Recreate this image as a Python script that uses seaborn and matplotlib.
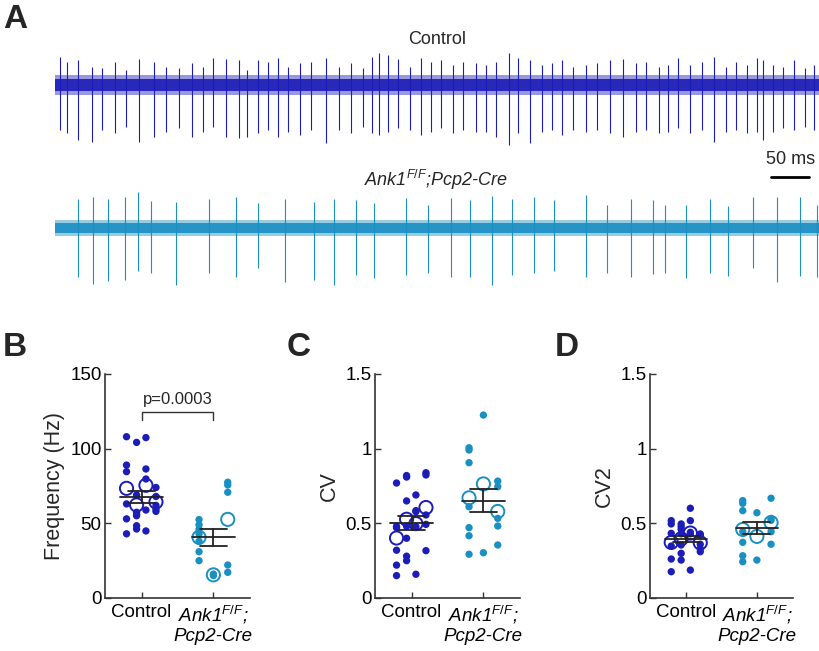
import matplotlib
matplotlib.use('Agg')
import numpy as np
import pandas as pd
import matplotlib.pyplot as plt
import seaborn as sns

sns.set_theme(style='white')
plt.rcParams['font.family'] = ['Liberation Sans', 'DejaVu Sans']
plt.rcParams['mathtext.fontset'] = 'custom'
plt.rcParams['mathtext.it'] = 'Liberation Sans:italic'
plt.rcParams['mathtext.rm'] = 'Liberation Sans'

CTRL_COLOR = '#1c1cb8'
KO_COLOR = '#1a8fc2'
SPINE = '#333333'

# Panel A: spike times (ms) and peak sizes below / above baseline
ctrl_spike_ms = [6, 16, 30, 48, 62, 78, 93, 110, 129, 145,
                 162, 179, 193, 206, 224, 241, 251, 265, 279, 292,
                 305, 320, 334, 354, 371, 387, 402, 415, 424, 435,
                 449, 464, 478, 492, 505, 520, 533, 550, 564, 577,
                 593, 605, 621, 636, 650, 663, 677, 694, 708, 725,
                 742, 760, 773, 789, 801, 815, 830, 846, 861, 877,
                 890, 904, 918, 925, 938, 952, 966, 980, 992]
ctrl_down = [45, 48, 55, 57, 45, 48, 42, 57, 52, 47,
             43, 52, 47, 42, 52, 53, 52, 48, 45, 52,
             47, 50, 45, 58, 45, 48, 42, 48, 50, 47,
             43, 45, 50, 47, 43, 48, 45, 47, 47, 52,
             60, 48, 58, 47, 45, 50, 45, 47, 45, 48,
             52, 47, 45, 48, 47, 43, 48, 45, 57, 47,
             45, 48, 47, 55, 47, 43, 45, 42, 45]
ctrl_up = [28, 23, 25, 18, 17, 23, 15, 26, 23, 18,
           17, 22, 18, 27, 26, 25, 15, 25, 23, 27,
           18, 22, 23, 27, 18, 22, 17, 28, 32, 30,
           26, 18, 27, 23, 25, 20, 23, 22, 20, 23,
           32, 27, 25, 20, 22, 25, 18, 20, 22, 25,
           26, 22, 23, 18, 20, 27, 20, 23, 28, 18,
           23, 20, 27, 25, 20, 18, 25, 17, 20]

ko_spike_ms = [30, 50, 69, 91, 108, 125, 158, 201, 237, 265,
               301, 339, 365, 394, 417, 459, 488, 518, 543, 571,
               598, 626, 652, 694, 722, 753, 782, 797, 825, 856,
               880, 912, 944, 974, 996]
ko_down = [49, 56, 53, 52, 43, 45, 57, 45, 49, 40,
           54, 52, 57, 47, 50, 47, 45, 49, 49, 57,
           47, 45, 43, 49, 45, 49, 46, 45, 50, 45,
           48, 40, 54, 48, 49]
ko_up = [29, 31, 29, 31, 36, 27, 26, 29, 31, 25,
         29, 26, 29, 28, 25, 30, 23, 30, 28, 32,
         29, 31, 28, 33, 23, 29, 28, 23, 23, 29,
         22, 31, 31, 31, 23]

# Panels B-D: cell values, one list per animal
freq_ctrl = [[108, 89, 84.6, 63, 53, 43],
             [104.2, 69, 57.4, 56, 55.1, 48.4, 46.2],
             [107.4, 86.4, 79.7, 58.9, 44.9],
             [74, 68, 62, 59.6, 58]]
freq_ko = [[52.5, 49, 46, 43, 38, 31, 25],
           [16, 15],
           [77.5, 75.7, 70.8, 22.1, 17.2]]

cv_ctrl = [[0.77, 0.48, 0.47, 0.32, 0.22, 0.15],
           [0.82, 0.81, 0.65, 0.48, 0.40, 0.28, 0.25],
           [0.69, 0.585, 0.578, 0.478, 0.159],
           [0.839, 0.824, 0.556, 0.493, 0.317]]
cv_ko = [[1.006, 0.991, 0.906, 0.611, 0.471, 0.417, 0.293],
         [1.225, 0.303],
         [0.783, 0.745, 0.533, 0.482, 0.355]]

cv2_ctrl = [[0.518, 0.496, 0.433, 0.348, 0.261, 0.176],
            [0.496, 0.478, 0.46, 0.43, 0.355, 0.299, 0.254],
            [0.601, 0.518, 0.44, 0.43, 0.187],
            [0.429, 0.42, 0.36, 0.33, 0.31]]
cv2_ko = [[0.652, 0.634, 0.585, 0.444, 0.373, 0.283, 0.243],
          [0.571, 0.254],
          [0.668, 0.533, 0.52, 0.444, 0.36]]

# group mean and SEM as shown in the figure
freq_mean, freq_sem = [67.5, 40.6], [4.1, 5.7]
cv_mean, cv_sem = [0.505, 0.652], [0.047, 0.078]
cv2_mean, cv2_sem = [0.393, 0.467], [0.019, 0.039]

group_labels = ['Control', 'Ank1$^{\\mathit{F/F}}$;\nPcp2-Cre']
p_text = 'p=0.0003'

# column offset of each animal within its group
ANIMAL_OFFSET = [[-0.21, -0.07, 0.06, 0.20], [-0.20, 0.0, 0.20]]


def to_frame(ctrl, ko):
    rows = []
    for g, animals in enumerate([ctrl, ko]):
        for a, cells in enumerate(animals):
            for v in cells:
                rows.append({'group': g, 'animal': a, 'value': v,
                             'x': g + 1 + ANIMAL_OFFSET[g][a]})
    return pd.DataFrame(rows)


fig = plt.figure(figsize=(8.2, 6.51), dpi=100)

# Panel A traces
axA = fig.add_axes([55 / 820, (651 - 300) / 651, 765 / 820, 270 / 651])
axA.set_xlim(0, 1000)
axA.set_ylim(-215, 55)
axA.axis('off')
traces = [(0, ctrl_spike_ms, ctrl_down, ctrl_up, 10, CTRL_COLOR),
          (-143, ko_spike_ms, ko_down, ko_up, 8, KO_COLOR)]
for base, times, down, up, half, col in traces:
    axA.fill_between([0, 1000], base - half, base + half, color=col,
                     alpha=0.45, lw=0)
    axA.fill_between([0, 1000], base - half * 0.6, base + half * 0.6,
                     color=col, alpha=0.9, lw=0)
    axA.vlines(times, base - np.array(down), base + np.array(up),
               color=col, lw=0.8)
axA.text(499, 45, 'Control', ha='center', va='center', fontsize=13)
axA.text(498, -95, 'Ank1$^{\\mathit{F/F}}$;Pcp2-Cre', ha='center',
         va='center', fontsize=13, fontstyle='italic')
axA.plot([936, 986], [-92, -92], color='black', lw=2)
axA.text(961, -75, '50 ms', ha='center', va='center', fontsize=13)

panels = [
    (105, 145, freq_ctrl, freq_ko, freq_mean, freq_sem, 150,
     [0, 50, 100, 150], ['0', '50', '100', '150'], 'Frequency (Hz)'),
    (375, 145, cv_ctrl, cv_ko, cv_mean, cv_sem, 1.5,
     [0, 0.5, 1, 1.5], ['0', '0.5', '1', '1.5'], 'CV'),
    (650, 143, cv2_ctrl, cv2_ko, cv2_mean, cv2_sem, 1.5,
     [0, 0.5, 1, 1.5], ['0', '0.5', '1', '1.5'], 'CV2'),
]

axes = []
for left, width, ctrl, ko, mean, sem, ymax, yt, ytl, ylab in panels:
    ax = fig.add_axes([left / 820, 53 / 651, width / 820, 224 / 651])
    axes.append(ax)
    df = to_frame(ctrl, ko)
    sns.scatterplot(data=df, x='x', y='value', hue='group',
                    palette=[CTRL_COLOR, KO_COLOR], s=28, linewidth=0,
                    legend=False, ax=ax, clip_on=False, zorder=2)
    animal_means = df.groupby(['group', 'animal'], as_index=False).agg(
        value=('value', 'mean'), x=('x', 'first'))
    for g, col in enumerate([CTRL_COLOR, KO_COLOR]):
        sub = animal_means[animal_means.group == g]
        ax.scatter(sub.x, sub.value, s=90, facecolors='none',
                   edgecolors=col, linewidths=1.4, zorder=3, clip_on=False)
    for g in range(2):
        xc = g + 1
        ax.plot([xc - 0.3, xc + 0.3], [mean[g], mean[g]], color='#222222',
                lw=1.3, zorder=4)
        for yy in (mean[g] - sem[g], mean[g] + sem[g]):
            ax.plot([xc - 0.19, xc + 0.19], [yy, yy], color='#222222',
                    lw=1.3, zorder=4)
        ax.plot([xc, xc], [mean[g] - sem[g], mean[g] + sem[g]],
                color='#222222', lw=1.3, zorder=4)

    ax.set_xlim(0.49, 2.51)
    ax.set_ylim(0, ymax)
    ax.set_yticks(yt)
    ax.set_yticklabels(ytl)
    ax.set_xticks([1, 2])
    ax.set_xticklabels(group_labels)
    ax.get_xticklabels()[1].set_fontstyle('italic')
    ax.set_xlabel('')
    ax.set_ylabel(ylab, fontsize=15.5, labelpad=4)
    sns.despine(ax=ax)
    for side in ('left', 'bottom'):
        ax.spines[side].set_color(SPINE)
        ax.spines[side].set_linewidth(1.2)
    ax.tick_params(direction='in', length=4, width=1, colors=SPINE,
                   labelcolor='black', labelsize=13.5, left=True,
                   bottom=True)
    ax.tick_params(axis='y', pad=2.5)
    ax.tick_params(axis='x', pad=4)

# significance bracket in panel B
axB = axes[0]
axB.plot([1, 1, 2, 2], [119, 124.5, 124.5, 119], color='#333333', lw=1,
         clip_on=False)
axB.text(1.5, 128, p_text, ha='center', va='bottom', fontsize=12)

for letter, x, y in [('A', 15, 20), ('B', 15, 347), ('C', 299, 347),
                     ('D', 567, 347)]:
    fig.text(x / 820, 1 - y / 651, letter, ha='center', va='center',
             fontsize=24, fontweight='bold')

fig.savefig('out.png', dpi=100)
